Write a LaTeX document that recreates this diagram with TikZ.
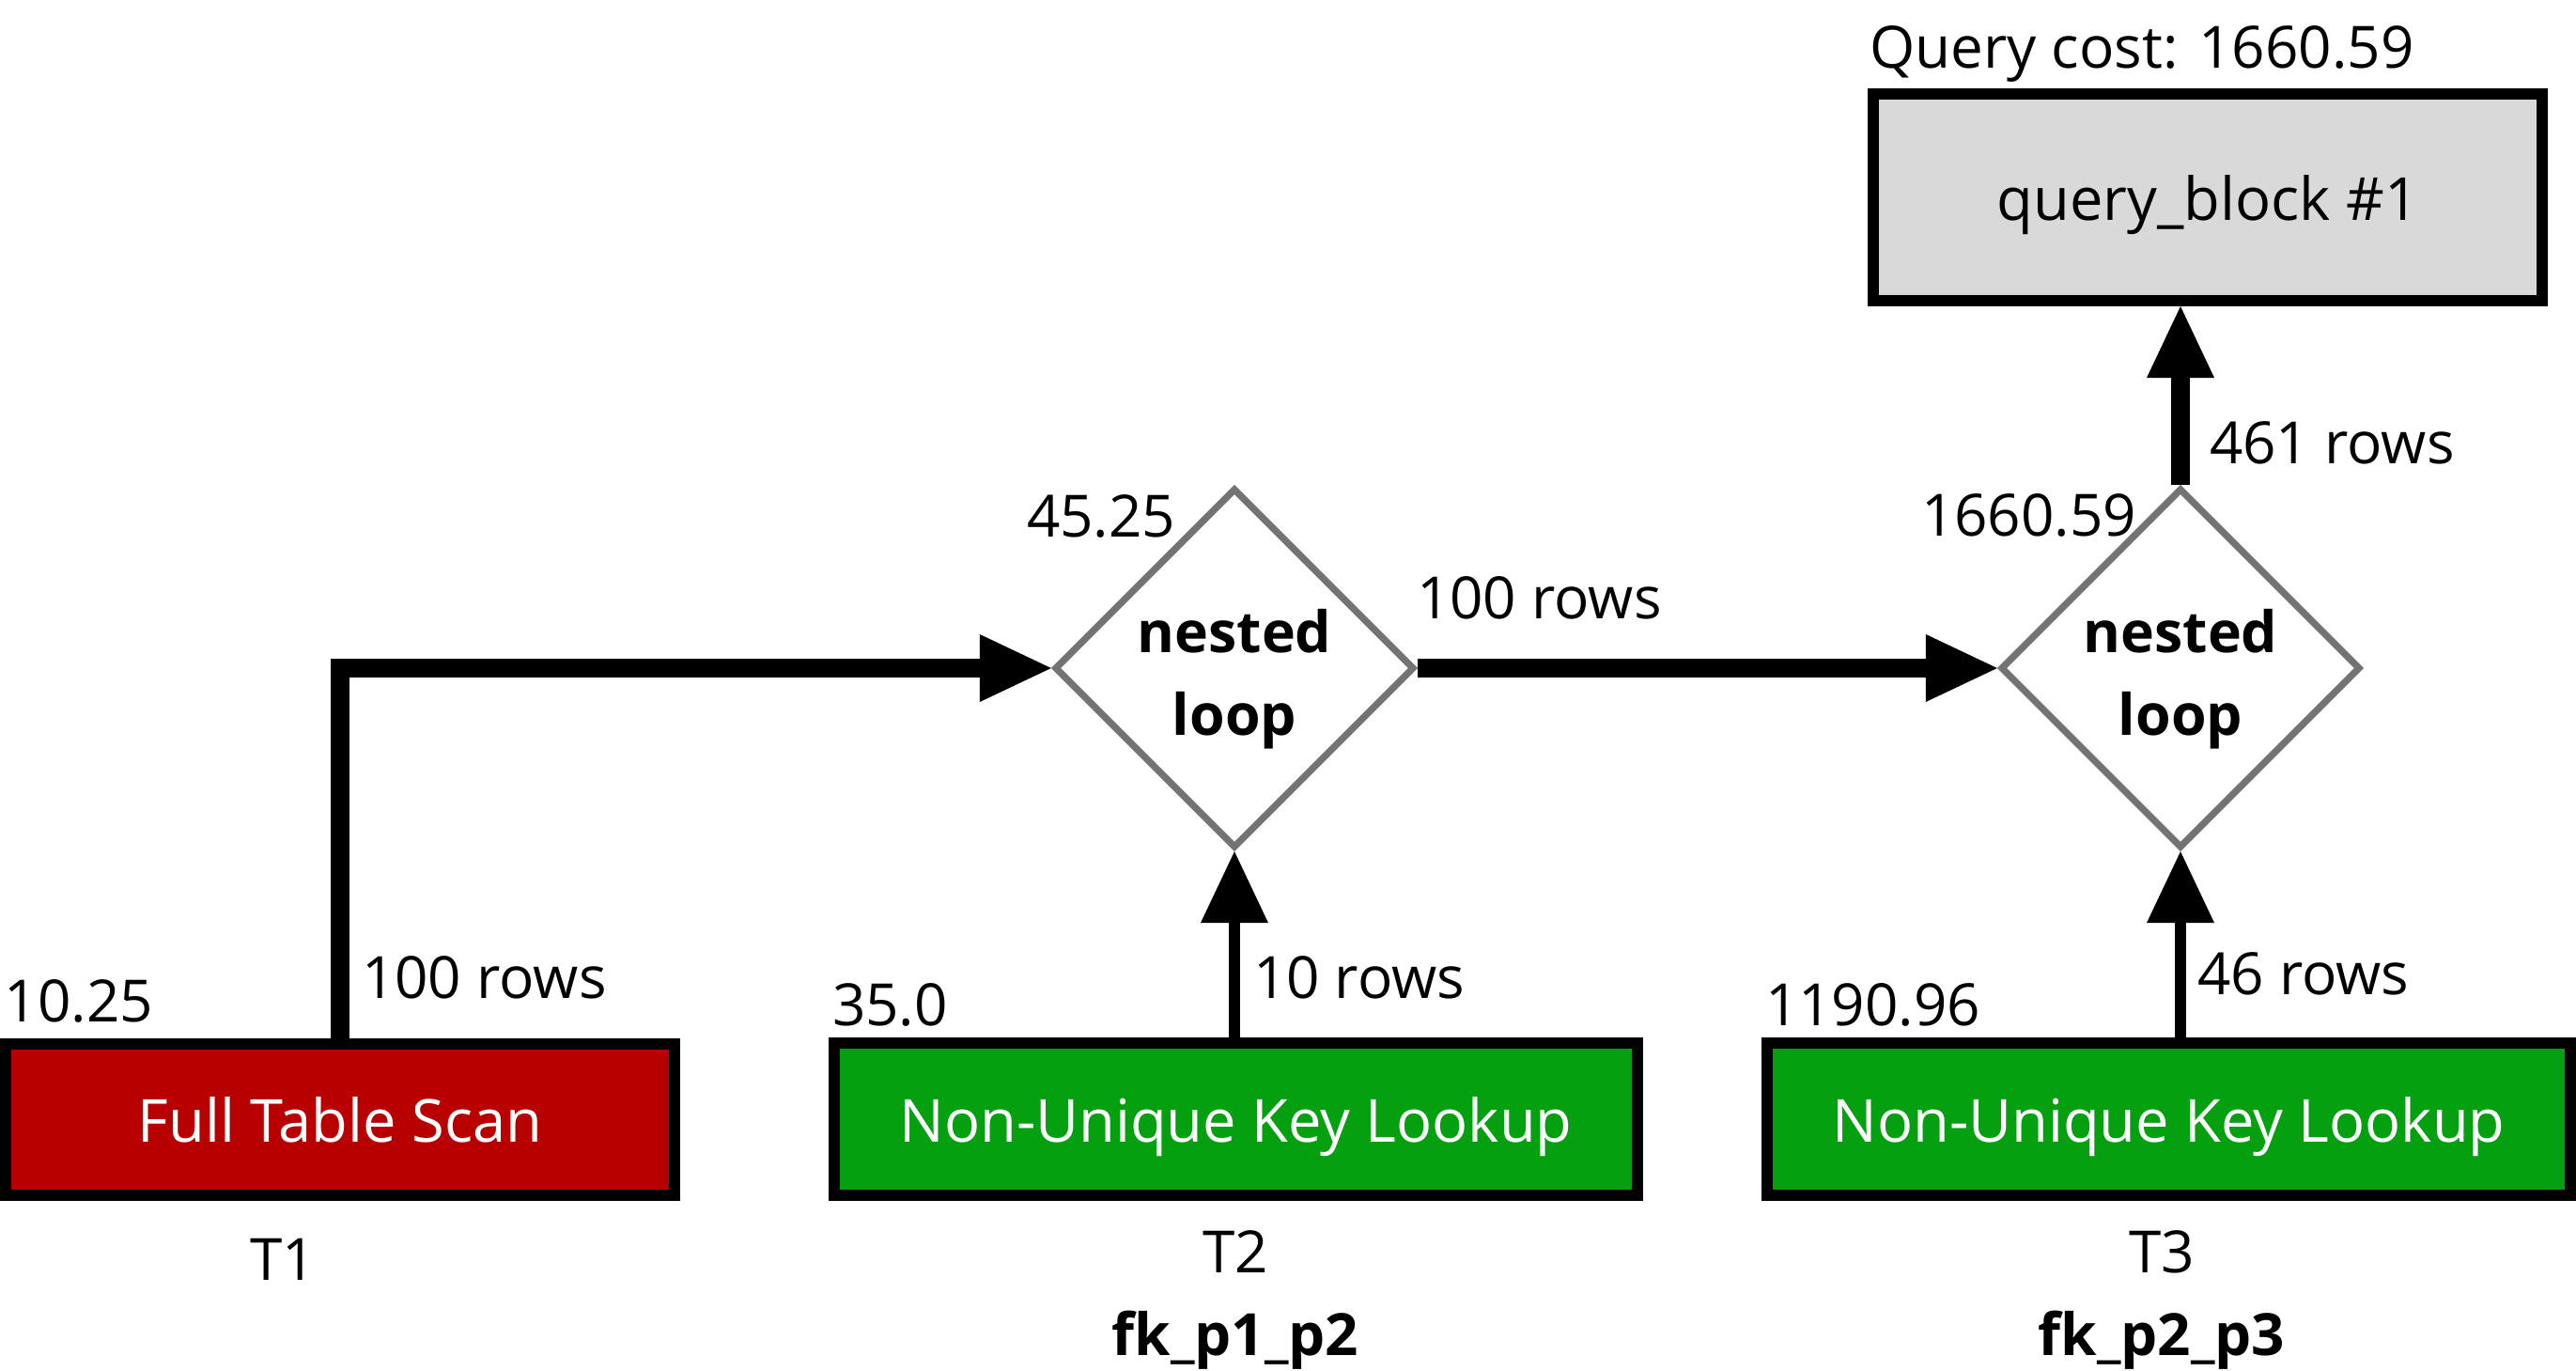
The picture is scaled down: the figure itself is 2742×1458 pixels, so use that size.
\documentclass[tikz,border=0pt]{standalone}
\usepackage{fontspec}
\setmainfont{Open Sans}
\usetikzlibrary{arrows.meta,shapes.geometric}
\definecolor{ftsred}{RGB}{184,0,0}
\definecolor{nukgreen}{RGB}{4,160,16}
\definecolor{qbgray}{RGB}{217,217,217}
\definecolor{dgray}{RGB}{115,115,115}
\begin{document}
\begin{tikzpicture}[x=0.25pt,y=-0.25pt,
  txt/.style={font=\fontsize{15.5}{22}\selectfont},
  lbl/.style={txt, inner sep=0pt, outer sep=0pt},
  opbox/.style={font=\fontsize{15.8}{22}\selectfont, rectangle, draw=black, line width=3pt, text depth=0pt, inner sep=0pt},
  ftsbox/.style={opbox, fill=ftsred, text=white, minimum width=178pt, minimum height=40.25pt},
  nukbox/.style={opbox, fill=nukgreen, text=white, minimum width=213.75pt, minimum height=40.5pt},
  qbbox/.style={opbox, fill=qbgray, text=black, minimum width=178pt, minimum height=55pt},
  nl/.style={diamond, aspect=1, draw=dgray, line width=1.8pt, fill=white, minimum width=95.75pt, minimum height=95.75pt, inner sep=0pt},
  nltext/.style={lbl, font=\fontsize{15.2}{22}\selectfont\bfseries, align=center},
  tip/.style={-{Triangle[length=19pt,width=18pt,line width=0pt]}},
  flow/.style={tip, line width=5pt, line join=miter},
  flowthin/.style={tip, line width=3.1pt},
]
\fill[white] (0,0) rectangle (2742,1458);
\useasboundingbox (0,0) rectangle (2742,1458);

% top: query block
\node[lbl, anchor=base west] (qcost) at (1990,72) {Query cost: 1660.59};
\node[qbbox] (qb) at (2350,210) {query\_block \#1};

% nested loops
\node[nl] (d1) at (1314,711) {};
\node[nl] (d2) at (2321,711) {};
\node[nltext, yshift=-3pt] (d1t) at (d1.center) {nested\\loop};
\node[nltext, yshift=-3pt] (d2t) at (d2.center) {nested\\loop};
\node[lbl, anchor=base west] (c45) at (1093,571) {45.25};
\node[lbl, anchor=base west] (c1660) at (2045,570) {1660.59};

% access boxes
\node[ftsbox] (t1) at (362,1191.5) {Full Table Scan};
\node[nukbox] (t2) at (1315.5,1191) {Non-Unique Key Lookup};
\node[nukbox] (t3) at (2308.5,1191) {Non-Unique Key Lookup};

\node[lbl, anchor=base west] (c10) at (5,1087) {10.25};
\node[lbl, anchor=base west] (c35) at (886,1091) {35.0};
\node[lbl, anchor=base west] (c1190) at (1879,1091) {1190.96};

\node[lbl, anchor=base] (n1) at (301,1362) {T1};
\node[lbl, anchor=north, align=center] (n2) at (1315,1310) {T2\\\textbf{fk\_p1\_p2}};
\node[lbl, anchor=north, align=center] (n3) at (2301,1310) {T3\\\textbf{fk\_p2\_p3}};

% connectors
\draw[flow] (t1.north) |- (d1.west);
\draw[flow] (d1.east) -- (d2.west);
\draw[flowthin] (t2.north -| d1.south) -- (d1.south);
\draw[flowthin] (t3.north -| d2.south) -- (d2.south);
\draw[flow] (d2.north) -- (d2.north |- qb.south);

% row labels
\node[lbl, anchor=base west] (r100a) at (385,1062) {100 rows};
\node[lbl, anchor=base west] (r100b) at (1508,658) {100 rows};
\node[lbl, anchor=base west] (r10) at (1334,1062) {10 rows};
\node[lbl, anchor=base west] (r46) at (2339,1058) {46 rows};
\node[lbl, anchor=base west] (r461) at (2352,493) {461 rows};
\end{tikzpicture}
\end{document}
